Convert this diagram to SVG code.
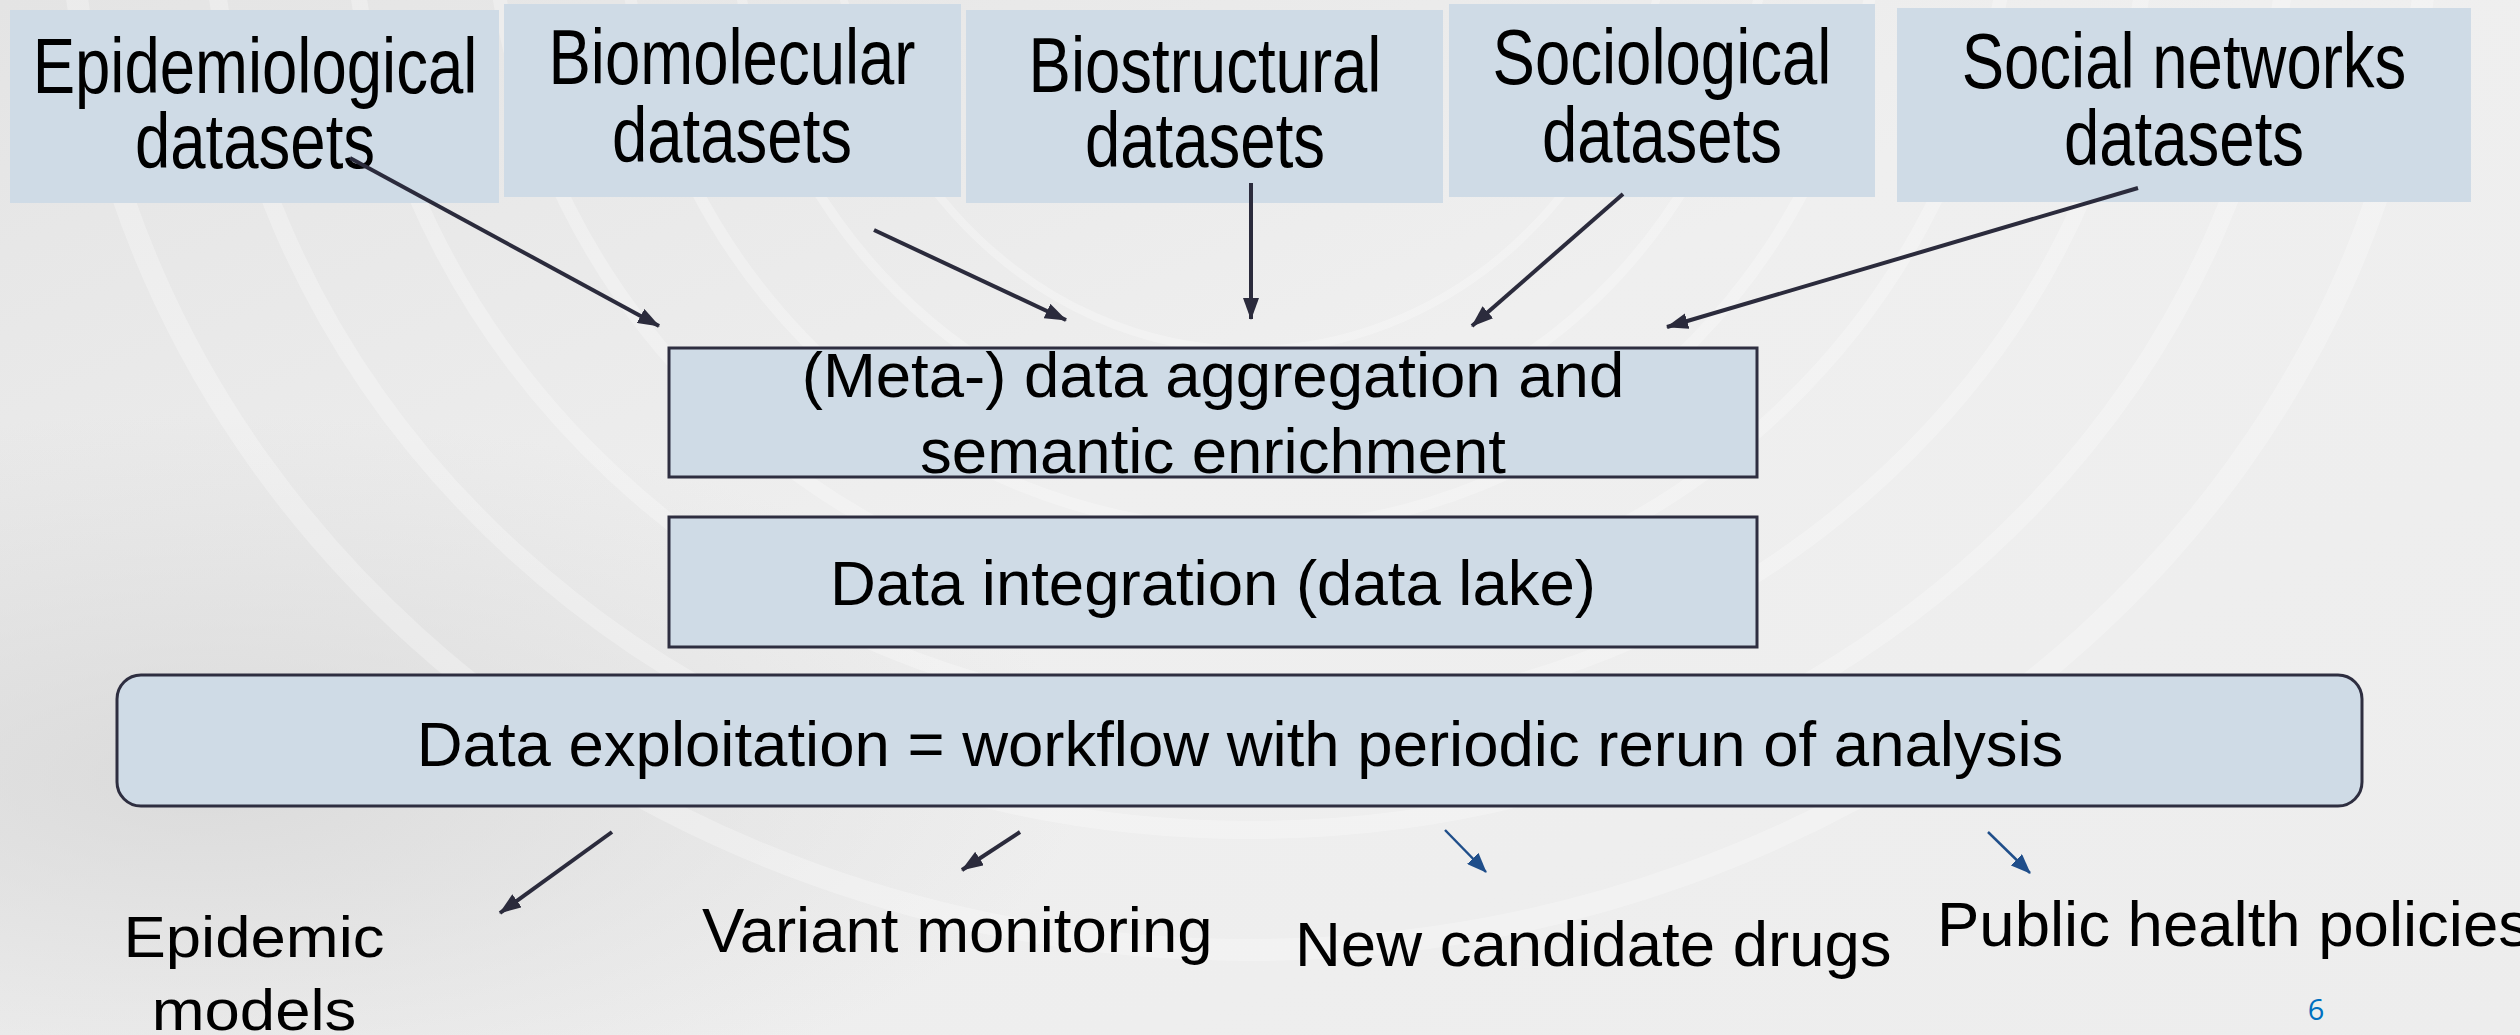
<svg xmlns="http://www.w3.org/2000/svg" width="2520" height="1035" viewBox="0 0 2520 1035">
<defs>
<linearGradient id="bg" x1="0" y1="0" x2="1" y2="1">
<stop offset="0" stop-color="#e4e4e4"/>
<stop offset="0.45" stop-color="#efefef"/>
<stop offset="1" stop-color="#ededed"/>
</linearGradient>
<radialGradient id="shade" cx="0.08" cy="0.75" r="0.35">
<stop offset="0" stop-color="#d6d6d6" stop-opacity="0.8"/>
<stop offset="1" stop-color="#d6d6d6" stop-opacity="0"/>
</radialGradient>
<marker id="ah" markerUnits="userSpaceOnUse" markerWidth="22" markerHeight="16" refX="21" refY="8" orient="auto">
<path d="M0,0 L22,8 L0,16 z" fill="#2b2b3c"/>
</marker>
<marker id="ahb" markerUnits="userSpaceOnUse" markerWidth="20" markerHeight="16" refX="19" refY="8" orient="auto">
<path d="M0,0 L20,8 L0,16 z" fill="#1f4e8a"/>
</marker>
</defs>
<style>
.box{fill:#cfdbe6}
.sbox{fill:#cfdbe6;stroke:#2e2e40;stroke-width:3}
.t{font-family:"Liberation Sans",Arial,Helvetica,sans-serif;font-size:63.5px;fill:#000;text-anchor:middle}
.tl{font-family:"Liberation Sans",Arial,Helvetica,sans-serif;font-size:63.5px;fill:#000}
.c{stroke:#2b2b3c;stroke-width:4;fill:none;marker-end:url(#ah)}
.cb{stroke:#1f4e8a;stroke-width:2.5;fill:none;marker-end:url(#ahb)}
.rib{fill:none;stroke:#ffffff;stroke-opacity:0.28}
</style>

<!-- background -->
<rect x="0" y="0" width="2520" height="1035" fill="url(#bg)"/>
<rect x="0" y="0" width="2520" height="1035" fill="url(#shade)"/>
<g class="rib">
<ellipse cx="1250" cy="-120" rx="420" ry="470" stroke-width="8"/>
<ellipse cx="1250" cy="-120" rx="520" ry="560" stroke-width="10"/>
<ellipse cx="1250" cy="-120" rx="630" ry="650" stroke-width="12"/>
<ellipse cx="1250" cy="-120" rx="760" ry="740" stroke-width="14"/>
<ellipse cx="1250" cy="-120" rx="900" ry="840" stroke-width="16"/>
<ellipse cx="1250" cy="-120" rx="1040" ry="950" stroke-width="18"/>
<ellipse cx="1250" cy="-120" rx="1180" ry="1070" stroke-width="22"/>
</g>

<!-- top dataset nodes -->
<g id="epidemiological">
<rect class="box" x="10" y="10" width="489" height="193"/>
<text class="t" transform="translate(255,93) scale(1,1.22)">Epidemiological</text>
<text class="t" transform="translate(255,168) scale(1,1.22)">datasets</text>
</g>
<g id="biomolecular">
<rect class="box" x="504" y="4" width="457" height="193"/>
<text class="t" transform="translate(732,84) scale(1,1.22)">Biomolecular</text>
<text class="t" transform="translate(732,162) scale(1,1.22)">datasets</text>
</g>
<g id="biostructural">
<rect class="box" x="966" y="10" width="477" height="193"/>
<text class="t" transform="translate(1205,92) scale(1,1.22)">Biostructural</text>
<text class="t" transform="translate(1205,167) scale(1,1.22)">datasets</text>
</g>
<g id="sociological">
<rect class="box" x="1449" y="4" width="426" height="193"/>
<text class="t" transform="translate(1662,84) scale(1,1.22)">Sociological</text>
<text class="t" transform="translate(1662,162) scale(1,1.22)">datasets</text>
</g>
<g id="social-networks">
<rect class="box" x="1897" y="8" width="574" height="194"/>
<text class="t" transform="translate(2184,88) scale(1,1.22)">Social networks</text>
<text class="t" transform="translate(2184,165) scale(1,1.22)">datasets</text>
</g>

<!-- middle nodes -->
<g id="aggregation">
<rect class="sbox" x="669" y="348" width="1088" height="129"/>
<text class="t" x="1213" y="397">(Meta-) data aggregation and</text>
<text class="t" x="1213" y="473">semantic enrichment</text>
</g>
<g id="integration">
<rect class="sbox" x="669" y="517" width="1088" height="130"/>
<text class="t" x="1213" y="605">Data integration (data lake)</text>
</g>
<g id="exploitation">
<rect class="sbox" x="117" y="675" width="2245" height="131" rx="24" ry="24"/>
<text class="t" x="1240" y="766">Data exploitation = workflow with periodic rerun of analysis</text>
</g>

<!-- outcome labels -->
<g id="epidemic-models">
<text class="t" transform="translate(254,957) scale(1,0.9)">Epidemic</text>
<text class="t" transform="translate(254,1030) scale(1,0.9)">models</text>
</g>
<g id="variant-monitoring">
<text class="tl" x="702" y="952">Variant monitoring</text>
</g>
<g id="new-candidate-drugs">
<text class="tl" x="1295" y="966">New candidate drugs</text>
</g>
<g id="public-health-policies">
<text class="tl" x="1937" y="946">Public health policies</text>
</g>
<g id="page-number">
<text x="2316" y="1020" font-family="'Open Sans','Noto Sans',sans-serif" font-size="29" fill="#0070c0" text-anchor="middle">6</text>
</g>

<!-- connectors -->
<g id="connectors">
<line class="c" x1="350" y1="158" x2="659" y2="326"/>
<line class="c" x1="874" y1="230" x2="1066" y2="320"/>
<line class="c" x1="1251" y1="183" x2="1251" y2="319"/>
<line class="c" x1="1623" y1="194" x2="1472" y2="326"/>
<line class="c" x1="2138" y1="188" x2="1667" y2="327"/>
<line class="c" x1="612" y1="832" x2="500" y2="913"/>
<line class="c" x1="1020" y1="832" x2="962" y2="870"/>
<line class="cb" x1="1445" y1="830" x2="1486" y2="872"/>
<line class="cb" x1="1988" y1="832" x2="2030" y2="873"/>
</g>
</svg>
